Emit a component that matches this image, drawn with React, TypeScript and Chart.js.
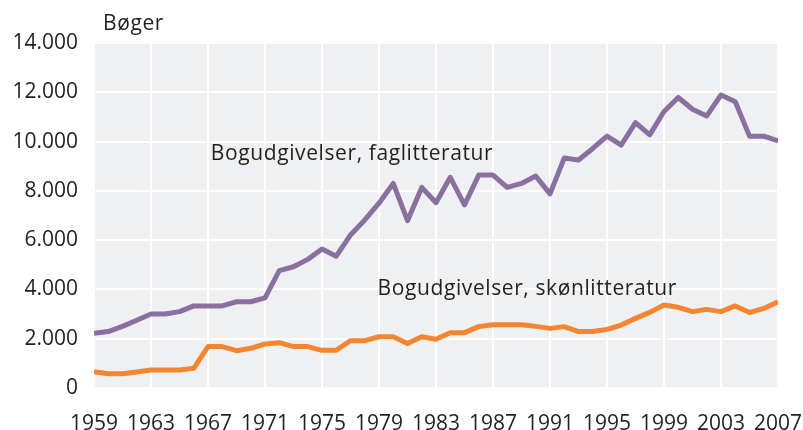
import React, { useEffect, useRef } from "react";
import { Chart, registerables } from "chart.js";

Chart.register(...registerables);

const years: number[] = [];
for (let y = 1959; y <= 2007; y++) years.push(y);

const faglitteratur = [
  2220, 2290, 2500, 2750, 3000, 3000, 3100, 3330, 3330, 3330,
  3500, 3500, 3660, 4760, 4920, 5220, 5640, 5350, 6210, 6820,
  7500, 8300, 6790, 8140, 7520, 8550, 7430, 8640, 8640, 8140,
  8300, 8600, 7880, 9330, 9250, 9720, 10220, 9860, 10770, 10270,
  11220, 11790, 11310, 11040, 11890, 11620, 10220, 10220, 10030,
];

const skoenlitteratur = [
  660, 580, 580, 650, 730, 730, 730, 800, 1680, 1680,
  1515, 1610, 1785, 1840, 1680, 1680, 1530, 1530, 1920, 1920,
  2080, 2080, 1810, 2080, 1975, 2245, 2245, 2490, 2570, 2570,
  2570, 2500, 2420, 2490, 2290, 2290, 2380, 2555, 2825, 3070,
  3370, 3275, 3100, 3190, 3100, 3330, 3060, 3230, 3500,
];

const seriesNames = ["Bogudgivelser, faglitteratur", "Bogudgivelser, skønlitteratur"];
const yAxisTitle = "Bøger";
const yTicks = [0, 2000, 4000, 6000, 8000, 10000, 12000, 14000];

const FONT = "'Open Sans', 'Noto Sans', sans-serif";
const TEXT = "#231f20";

export default function App() {
  const ref = useRef<HTMLCanvasElement | null>(null);

  useEffect(() => {
    document.body.style.margin = "0";
    const canvas = ref.current;
    if (!canvas) return;

    const bgPlugin = {
      id: "plotBg",
      beforeDraw(chart: any) {
        const { ctx, chartArea } = chart;
        ctx.save();
        ctx.fillStyle = "#eff0f2";
        ctx.fillRect(chartArea.left, chartArea.top, chartArea.right - chartArea.left, chartArea.bottom - chartArea.top);
        ctx.restore();
      },
      afterDraw(chart: any) {
        const { ctx } = chart;
        const xs = chart.scales.x;
        const ys = chart.scales.y;
        ctx.save();
        ctx.fillStyle = TEXT;
        ctx.font = `21px ${FONT}`;
        try { (ctx as any).letterSpacing = "0.6px"; } catch (e) {}
        ctx.textBaseline = "alphabetic";
        ctx.textAlign = "left";
        ctx.fillText(yAxisTitle, 103, 30);
        ctx.fillText(seriesNames[0], xs.getPixelForValue(1967.2), ys.getPixelForValue(9250));
        ctx.fillText(seriesNames[1], xs.getPixelForValue(1978.9), ys.getPixelForValue(3775));
        ctx.restore();
      },
    };

    const chart = new Chart(canvas, {
      type: "line",
      data: {
        datasets: [
          {
            label: seriesNames[0],
            data: years.map((y, i) => ({ x: y, y: faglitteratur[i] })),
            borderColor: "#8a70a0",
            borderWidth: 5,
            pointRadius: 0,
            tension: 0,
            borderJoinStyle: "round",
          },
          {
            label: seriesNames[1],
            data: years.map((y, i) => ({ x: y, y: skoenlitteratur[i] })),
            borderColor: "#f58631",
            borderWidth: 5,
            pointRadius: 0,
            tension: 0,
            borderJoinStyle: "round",
          },
        ],
      },
      options: {
        animation: false,
        responsive: false,
        events: [],
        layout: { padding: { left: 0, right: 25, top: 43, bottom: 0 } },
        plugins: { legend: { display: false }, tooltip: { enabled: false } },
        scales: {
          x: {
            type: "linear",
            min: 1959,
            max: 2007,
            ticks: {
              stepSize: 4,
              color: TEXT,
              font: { family: FONT, size: 21 },
              padding: 23,
              maxRotation: 0,
              autoSkip: false,
              callback: (v: any) => String(v),
            },
            grid: { color: "#ffffff", lineWidth: 2, drawTicks: false },
            border: { display: false },
            afterFit: (s: any) => {
              s.height = 42;
              s.paddingLeft = 0;
              s.paddingRight = 0;
            },
          },
          y: {
            min: 0,
            max: 14000,
            afterBuildTicks: (s: any) => { s.ticks = yTicks.map((v) => ({ value: v })); },
            ticks: {
              color: TEXT,
              font: { family: FONT, size: 21 },
              padding: 16,
              callback: (v: any) => Number(v).toLocaleString("en-US").replace(/,/g, "."),
            },
            grid: { color: "#ffffff", lineWidth: 2, drawTicks: false },
            border: { display: false },
            afterFit: (s: any) => {
              s.width = 94;
              s.paddingTop = 0;
              s.paddingBottom = 0;
            },
          },
        },
      },
      plugins: [bgPlugin],
    });

    return () => chart.destroy();
  }, []);

  return (
    <div style={{ position: "fixed", left: 0, top: 0, width: 803, height: 430 }}>
      <canvas ref={ref} width={803} height={430} style={{ width: 803, height: 430, display: "block" }} />
    </div>
  );
}
